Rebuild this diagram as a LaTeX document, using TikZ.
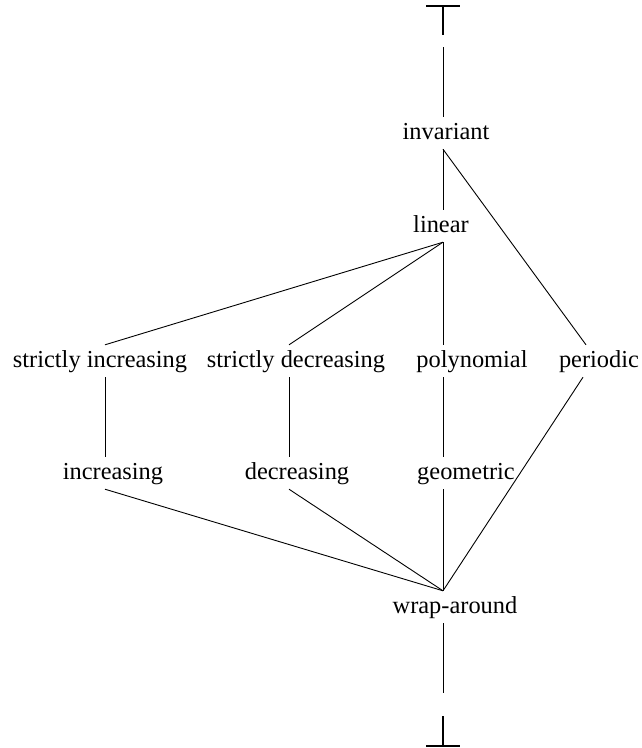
\documentclass[tikz,border=0pt]{standalone}
\usepackage{fontspec}
\setmainfont{Liberation Serif}
\begin{document}
\begin{tikzpicture}[x=1pt,y=-1pt,
  vtx/.style={anchor=base, inner sep=0pt, text height=22pt, text depth=10pt,
    font=\fontsize{24.4}{29}\selectfont},
  glyph/.style={inner sep=0pt, minimum width=33pt},
  edge/.style={line width=0.9pt},
  glyphbar/.style={line width=1.6pt},
  glyphstem/.style={line width=1.2pt}]
\useasboundingbox (0,0) rectangle (642,748);
% columns where the connectors meet the vertices
\coordinate (cA) at (105,0);
\coordinate (cB) at (289,0);
\coordinate (cC) at (443,0);
\coordinate (cDu) at (586,0);
\coordinate (cDl) at (583,0);
% vertices
\node[glyph, anchor=north, minimum height=41pt] (top) at (443,6) {};
\node[vtx] (inv) at (446,139) {invariant};
\node[vtx] (lin) at (441,232) {linear};
\node[vtx] (sinc) at (100,367) {strictly increasing};
\node[vtx] (sdec) at (296,367) {strictly decreasing};
\node[vtx] (poly) at (472,367) {polynomial};
\node[vtx] (per) at (599,367) {periodic};
\node[vtx] (inc) at (113,479) {increasing};
\node[vtx] (dec) at (297,479) {decreasing};
\node[vtx] (geo) at (466,479) {geometric};
\node[vtx] (wrap) at (455,613) {wrap-around};
\node[glyph, anchor=south, minimum height=53pt] (bot) at (443,746) {};
% top and bottom glyphs
\draw[glyphbar] (top.north west) -- (top.north east);
\draw[glyphstem] (top.north) -- ++(0,29);
\draw[glyphbar] (bot.south west) -- (bot.south east);
\draw[glyphstem] (bot.south) -- ++(0,-30);
% connectors
\draw[edge] (top.south) -- (inv.north -| cC);
\draw[edge] (inv.south -| cC) -- (lin.north -| cC);
\draw[edge] (inv.south -| cC) -- (per.north -| cDu);
\draw[edge] (lin.south -| cC) -- (sinc.north -| cA);
\draw[edge] (lin.south -| cC) -- (sdec.north -| cB);
\draw[edge] (lin.south -| cC) -- (poly.north -| cC);
\draw[edge] (sinc.south -| cA) -- (inc.north -| cA);
\draw[edge] (sdec.south -| cB) -- (dec.north -| cB);
\draw[edge] (poly.south -| cC) -- (geo.north -| cC);
\draw[edge] (inc.south -| cA) -- (wrap.north -| cC);
\draw[edge] (dec.south -| cB) -- (wrap.north -| cC);
\draw[edge] (geo.south -| cC) -- (wrap.north -| cC);
\draw[edge] (per.south -| cDl) -- (wrap.north -| cC);
\draw[edge] (wrap.south -| cC) -- (bot.north);
\end{tikzpicture}
\end{document}
